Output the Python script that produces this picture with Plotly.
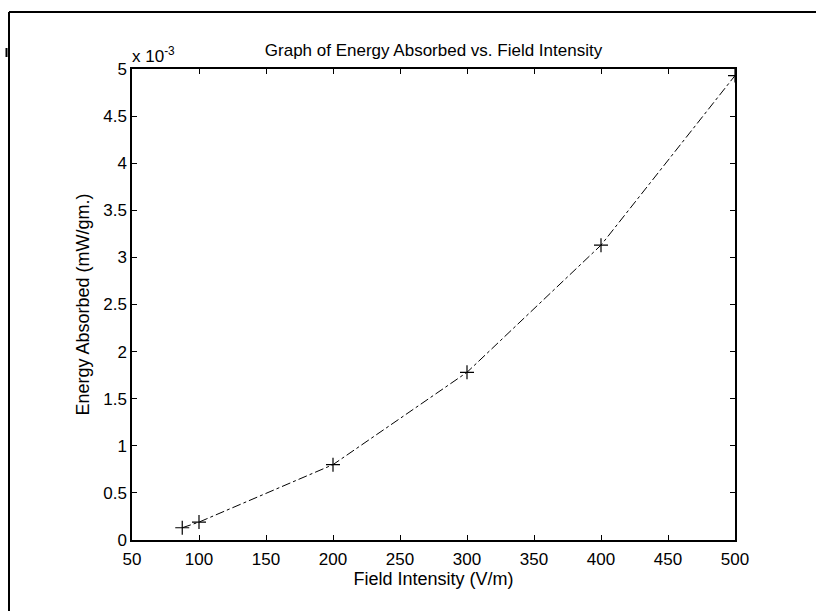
import plotly.graph_objects as go

# Data (energy in units of 1e-3 mW/gm)
field_intensity = [87.5, 100, 200, 300, 400, 500]
energy_e3 = [0.13, 0.19, 0.80, 1.78, 3.13, 4.93]

x_ticks = [50, 100, 150, 200, 250, 300, 350, 400, 450, 500]
y_ticks = [0, 0.5, 1, 1.5, 2, 2.5, 3, 3.5, 4, 4.5, 5]
y_tick_labels = ["0", "0.5", "1", "1.5", "2", "2.5", "3", "3.5", "4", "4.5", "5"]

FONT = "Liberation Sans, Arial, sans-serif"

fig = go.Figure()
fig.add_trace(go.Scatter(
    x=field_intensity, y=energy_e3, mode="lines+markers",
    line=dict(color="black", width=1, dash="dashdot"),
    marker=dict(symbol="cross-thin", size=10, line=dict(color="black", width=1.2), color="black"),
    showlegend=False,
))

axis_common = dict(
    showline=True, linecolor="black", linewidth=1.5, mirror="ticks",
    ticks="inside", ticklen=5, tickcolor="black", tickwidth=1,
    showgrid=False, zeroline=False,
    tickfont=dict(family=FONT, size=17, color="black"),
)

fig.update_layout(
    width=816, height=611,
    margin=dict(l=132, r=81, t=69, b=71),
    paper_bgcolor="white", plot_bgcolor="white",
    title=dict(text="Graph of Energy Absorbed vs. Field Intensity",
               x=0.5, xanchor="center", xref="paper",
               y=1 - 50 / 611, yanchor="middle",
               font=dict(family=FONT, size=17, color="black")),
    xaxis=dict(range=[50, 500], tickvals=x_ticks, ticklabelstandoff=3,
               title=dict(text="Field Intensity (V/m)", standoff=4,
                          font=dict(family=FONT, size=18, color="black")),
               **axis_common),
    yaxis=dict(range=[0, 5], tickvals=y_ticks, ticktext=y_tick_labels,
               title=dict(text="Energy Absorbed (mW/gm.)", standoff=9,
                          font=dict(family=FONT, size=18, color="black")),
               **axis_common),
)

# exponent label
fig.add_annotation(x=0, y=1, xref="paper", yref="paper", xanchor="left", yanchor="bottom",
                   text="x 10<sup>-3</sup>", showarrow=False, yshift=1, xshift=-2,
                   font=dict(family=FONT, size=17, color="black"))

PW, PH = 816 - 132 - 81, 611 - 69 - 71
# scanned frame: top and left border lines
fig.add_shape(type="line", xref="paper", yref="paper",
              x0=(9 - 132) / PW, x1=(816 - 132) / PW, y0=1 + 57 / PH, y1=1 + 57 / PH,
              line=dict(color="black", width=2))
fig.add_shape(type="line", xref="paper", yref="paper",
              x0=(9 - 132) / PW, x1=(9 - 132) / PW, y0=1 + 57 / PH, y1=-71 / PH,
              line=dict(color="black", width=2))
# small scan mark left of the frame
fig.add_shape(type="line", xref="paper", yref="paper",
              x0=(6.5 - 132) / PW, x1=(6.5 - 132) / PW, y0=1 + (69 - 48) / PH, y1=1 + (69 - 57) / PH,
              line=dict(color="black", width=2))

fig.write_html("out.html")
